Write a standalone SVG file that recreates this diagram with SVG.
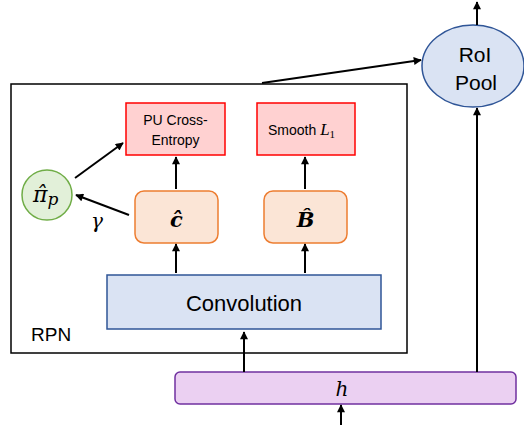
<svg xmlns="http://www.w3.org/2000/svg" width="524" height="425" viewBox="0 0 524 425">
<defs>
<marker id="ah" viewBox="0 0 10 10" refX="9" refY="5" markerWidth="10" markerHeight="8" orient="auto" markerUnits="userSpaceOnUse">
<path d="M0,0 L10,5 L0,10 z" fill="#000"/>
</marker>
<style>
.lbl{font-family:"Liberation Sans",Arial,sans-serif;fill:#000}
.math{font-family:"DejaVu Serif","Liberation Serif",serif;font-style:italic;fill:#000}
.ar{stroke:#000;stroke-width:2;fill:none;marker-end:url(#ah)}
.loss{fill:#FFD1D1;stroke:#FF0000;stroke-width:1.5}
.pred{fill:#FBE5D6;stroke:#ED7D31;stroke-width:1.5}
.blue{fill:#DAE3F3;stroke:#2F5597;stroke-width:1.5}
</style>
</defs>
<rect width="524" height="425" fill="#fff"/>

<g id="rpn">
<rect x="11" y="84" width="396" height="269" fill="none" stroke="#000" stroke-width="1.5"/>
<text class="lbl" x="31" y="341" font-size="19">RPN</text>
</g>

<g id="pu-ce">
<rect class="loss" x="126" y="103" width="99" height="52"/>
<text class="lbl" x="175.5" y="125" font-size="14" text-anchor="middle">PU Cross-</text>
<text class="lbl" x="175.5" y="145" font-size="14" text-anchor="middle">Entropy</text>
</g>

<g id="smooth-l1">
<rect class="loss" x="257" y="103" width="98" height="52"/>
<text class="lbl" x="268" y="135" font-size="14">Smooth <tspan font-family="Liberation Serif" font-style="italic" font-size="17">L</tspan><tspan font-family="Liberation Serif" font-size="11" dy="3">1</tspan></text>
</g>

<g id="c-hat">
<rect class="pred" x="135" y="191" width="83" height="52" rx="9"/>
<text class="math" x="176.5" y="227" font-size="21" font-weight="bold" text-anchor="middle">ĉ</text>
</g>

<g id="b-hat">
<rect class="pred" x="264" y="191" width="83" height="52" rx="9"/>
<text class="math" x="305.5" y="227" font-size="21" font-weight="bold" text-anchor="middle">B̂</text>
</g>

<g id="pi-hat">
<circle cx="47" cy="195" r="25" fill="#E2F0D9" stroke="#70AD47" stroke-width="1.5"/>
<text class="math" x="33" y="202" font-size="22">π̂<tspan font-size="17" dy="3">p</tspan></text>
</g>

<g id="conv">
<rect class="blue" x="107" y="275" width="274" height="54"/>
<text class="lbl" x="244" y="311" font-size="22" text-anchor="middle">Convolution</text>
</g>

<g id="roi-pool">
<ellipse class="blue" cx="473" cy="66" rx="51" ry="41"/>
<text class="lbl" x="475" y="62" font-size="21" text-anchor="middle">RoI</text>
<text class="lbl" x="476" y="90" font-size="21" text-anchor="middle">Pool</text>
</g>

<g id="h">
<rect x="175" y="372" width="341" height="32" rx="5" fill="#EBD0F2" stroke="#7030A0" stroke-width="1.5"/>
<text class="math" x="342" y="396" font-size="20" text-anchor="middle">h</text>
</g>

<g id="connectors">
<line class="ar" x1="176" y1="189" x2="176" y2="157"/>
<line class="ar" x1="305" y1="189" x2="305" y2="157"/>
<line class="ar" x1="176" y1="273" x2="176" y2="244"/>
<line class="ar" x1="305" y1="273" x2="305" y2="244"/>
<line class="ar" x1="75" y1="178" x2="123" y2="143"/>
<line class="ar" x1="129" y1="215" x2="76" y2="195"/>
<line class="ar" x1="244" y1="372" x2="244" y2="332"/>
<line class="ar" x1="341" y1="425" x2="341" y2="405"/>
<line class="ar" x1="477" y1="372" x2="477" y2="108"/>
<line class="ar" x1="477" y1="25" x2="477" y2="2"/>
<line class="ar" x1="262" y1="83" x2="421" y2="60"/>
<text class="math" x="97" y="228" font-size="20" text-anchor="middle">γ</text>
</g>
</svg>
